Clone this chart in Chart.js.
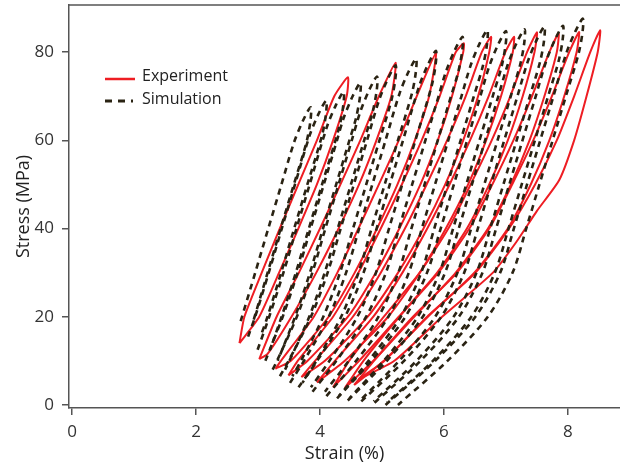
<!DOCTYPE html>
<html>
<head>
<meta charset="utf-8">
<script src="https://cdn.jsdelivr.net/npm/chart.js@4"></script>
<style>
html, body { margin: 0; padding: 0; background: #fff; }
#wrap { position: relative; width: 620px; height: 468px; }
</style>
</head>
<body>
<div id="wrap"><canvas id="chart" width="620" height="468"></canvas></div>
<script>
// tick values
const xTickValues = [0, 2, 4, 6, 8];
const yTickValues = [0, 20, 40, 60, 80];

// experiment loops: [strain %, stress MPa], loading up then unloading down
const expLoop1 = [[2.70,14],[2.78,20],[3.06,30],[3.35,40],[3.65,50],[3.95,60],[4.23,70],[4.45,74.3],[4.43,70],[4.21,60],[3.95,50],[3.65,40],[3.34,30],[3.02,20],[2.70,14]];
const expLoop2 = [[3.02,10.4],[3.30,20],[3.66,30],[4.00,40],[4.33,50],[4.65,60],[4.95,70],[5.22,77.6],[5.15,70],[4.91,60],[4.63,50],[4.30,40],[3.94,30],[3.54,20],[3.15,11.5],[3.02,10.4]];
const expLoop3 = [[3.28,8.2],[3.37,10],[3.90,20],[4.28,30],[4.62,40],[4.95,50],[5.27,60],[5.56,70],[5.87,79.8],[5.76,70],[5.53,60],[5.25,50],[4.92,40],[4.56,30],[4.14,20],[3.53,10],[3.28,8.2]];
const expLoop4 = [[3.49,6.7],[3.64,10],[4.21,20],[4.62,30],[4.98,40],[5.32,50],[5.64,60],[5.93,70],[6.19,80],[6.32,82],[6.31,80],[6.13,70],[5.90,60],[5.62,50],[5.28,40],[4.90,30],[4.45,20],[3.80,10],[3.49,6.7]];
const expLoop5 = [[3.70,6.3],[3.92,10],[4.53,20],[4.98,30],[5.37,40],[5.72,50],[6.05,60],[6.35,70],[6.61,80],[6.76,83.5],[6.73,80],[6.55,70],[6.31,60],[6.02,50],[5.67,40],[5.26,30],[4.77,20],[4.08,10],[3.70,6.3]];
const expLoop6 = [[3.95,5.1],[4.24,10],[4.86,20],[5.33,30],[5.73,40],[6.09,50],[6.42,60],[6.72,70],[6.99,80],[7.13,83.5],[7.11,80],[6.92,70],[6.68,60],[6.39,50],[6.03,40],[5.61,30],[5.10,20],[4.40,10],[3.95,5.1]];
const expLoop7 = [[4.21,4.0],[4.47,10],[5.03,20],[5.61,30],[6.07,40],[6.43,50],[6.77,60],[7.07,70],[7.34,80],[7.50,84.5],[7.46,80],[7.27,70],[7.03,60],[6.73,50],[6.37,40],[5.89,30],[5.27,20],[4.63,10],[4.21,4.0]];
const expLoop8 = [[4.40,3.8],[4.70,10],[5.28,20],[5.91,30],[6.41,40],[6.78,50],[7.12,60],[7.42,70],[7.70,80],[7.85,84.3],[7.82,80],[7.62,70],[7.38,60],[7.08,50],[6.71,40],[6.19,30],[5.52,20],[4.86,10],[4.40,3.8]];
const expLoop9 = [[4.55,4.5],[4.87,10],[5.50,20],[6.21,30],[6.73,40],[7.10,50],[7.44,60],[7.74,70],[8.02,80],[8.18,84.6],[8.14,80],[7.94,70],[7.70,60],[7.40,50],[7.03,40],[6.49,30],[5.74,20],[5.03,10],[4.55,4.5]];
const expLoop10 = [[4.62,5.8],[5.04,10],[5.73,20],[6.51,30],[7.05,40],[7.47,50],[7.82,60],[8.10,70],[8.36,80],[8.52,85],[8.48,80],[8.30,70],[8.10,60],[7.86,51],[7.50,44],[7.17,37],[6.79,30],[5.97,20],[5.20,10],[4.62,5.8]];

// simulation loops
const simLoop1 = [[2.72,19],[2.955,30],[3.165,40],[3.378,50],[3.58,59.5],[3.726,64.5],[3.85,67.5],[3.846,64.5],[3.78,59.5],[3.578,50],[3.365,40],[3.155,30],[2.945,20],[2.924,19]];
const simLoop2 = [[2.84,15.5],[2.953,20],[3.173,30],[3.383,40],[3.596,50],[3.83,61],[3.976,66],[4.10,69],[4.096,66],[4.03,61],[3.796,50],[3.583,40],[3.373,30],[3.153,20],[3.04,15.5]];
const simLoop3 = [[2.993,12.5],[3.18,20],[3.41,30],[3.62,40],[3.833,50],[4.11,63],[4.256,68],[4.38,71],[4.376,68],[4.31,63],[4.033,50],[3.82,40],[3.61,30],[3.38,20],[3.193,12.5]];
const simLoop4 = [[3.118,10],[3.398,20],[3.638,30],[3.848,40],[4.061,50],[4.274,60],[4.38,65],[4.526,70],[4.65,73],[4.646,70],[4.58,65],[4.474,60],[4.261,50],[4.048,40],[3.838,30],[3.598,20],[3.318,10]];
const simLoop5 = [[3.236,8],[3.306,10],[3.626,20],[3.876,30],[4.086,40],[4.299,50],[4.512,60],[4.65,66.5],[4.796,71.5],[4.92,74.5],[4.916,71.5],[4.85,66.5],[4.712,60],[4.499,50],[4.286,40],[4.076,30],[3.826,20],[3.506,10],[3.436,8]];
const simLoop6 = [[3.353,6.5],[3.493,10],[3.853,20],[4.123,30],[4.333,40],[4.546,50],[4.759,60],[4.95,69],[5.096,74],[5.22,77],[5.216,74],[5.15,69],[4.959,60],[4.746,50],[4.533,40],[4.323,30],[4.053,20],[3.693,10],[3.553,6.5]];
const simLoop7 = [[3.516,5],[3.741,10],[4.141,20],[4.421,30],[4.631,40],[4.844,50],[5.057,60],[5.28,70.5],[5.426,75.5],[5.55,78.5],[5.546,75.5],[5.48,70.5],[5.257,60],[5.044,50],[4.831,40],[4.621,30],[4.341,20],[3.941,10],[3.716,5]];
const simLoop8 = [[3.653,4],[3.953,10],[4.403,20],[4.703,30],[4.913,40],[5.126,50],[5.339,60],[5.60,72.3],[5.746,77.3],[5.87,80.3],[5.866,77.3],[5.80,72.3],[5.539,60],[5.326,50],[5.113,40],[4.903,30],[4.603,20],[4.153,10],[3.853,4]];
const simLoop9 = [[3.879,3],[4.264,10],[4.744,20],[5.064,30],[5.274,40],[5.487,50],[5.70,60],[5.913,70],[6.03,75.5],[6.176,80.5],[6.30,83.5],[6.296,80.5],[6.23,75.5],[6.113,70],[5.90,60],[5.687,50],[5.474,40],[5.264,30],[4.944,20],[4.464,10],[4.079,3]];
const simLoop10 = [[4.103,2],[4.583,10],[5.103,20],[5.433,30],[5.643,40],[5.856,50],[6.069,60],[6.282,70],[6.43,77],[6.576,82],[6.70,85],[6.696,82],[6.63,77],[6.482,70],[6.269,60],[6.056,50],[5.843,40],[5.633,30],[5.303,20],[4.783,10],[4.303,2]];
const simLoop11 = [[4.275,1.5],[4.827,10],[5.377,20],[5.727,30],[5.947,40],[6.16,50],[6.373,60],[6.586,70],[6.73,76.8],[6.876,81.8],[7.00,84.8],[6.996,81.8],[6.93,76.8],[6.786,70],[6.573,60],[6.36,50],[6.147,40],[5.927,30],[5.577,20],[5.027,10],[4.475,1.5]];
const simLoop12 = [[4.448,1],[5.078,10],[5.658,20],[6.018,30],[6.238,40],[6.451,50],[6.664,60],[6.877,70],[7.03,77.2],[7.176,82.2],[7.30,85.2],[7.296,82.2],[7.23,77.2],[7.077,70],[6.864,60],[6.651,50],[6.438,40],[6.218,30],[5.858,20],[5.278,10],[4.648,1]];
const simLoop13 = [[4.666,0.8],[5.356,10],[5.956,20],[6.326,30],[6.546,40],[6.759,50],[6.972,60],[7.185,70],[7.35,77.8],[7.496,82.8],[7.62,85.8],[7.616,82.8],[7.55,77.8],[7.385,70],[7.172,60],[6.959,50],[6.746,40],[6.526,30],[6.156,20],[5.556,10],[4.866,0.8]];
const simLoop14 = [[4.88,0.5],[5.621,10],[6.241,20],[6.621,30],[6.841,40],[7.054,50],[7.267,60],[7.48,70],[7.65,78],[7.796,83],[7.92,86],[7.916,83],[7.85,78],[7.68,70],[7.467,60],[7.254,50],[7.041,40],[6.821,30],[6.441,20],[5.821,10],[5.08,0.5]];
const simLoop15 = [[5.057,0],[5.857,10],[6.507,20],[6.907,30],[7.127,40],[7.34,50],[7.553,60],[7.766,70],[7.97,79.6],[8.116,84.6],[8.24,87.6],[8.236,84.6],[8.17,79.6],[7.966,70],[7.753,60],[7.54,50],[7.327,40],[7.107,30],[6.707,20],[6.057,10],[5.257,0]];

const expLoops = [expLoop1, expLoop2, expLoop3, expLoop4, expLoop5, expLoop6, expLoop7, expLoop8, expLoop9, expLoop10];
const simLoops = [simLoop1, simLoop2, simLoop3, simLoop4, simLoop5, simLoop6, simLoop7, simLoop8, simLoop9, simLoop10, simLoop11, simLoop12, simLoop13, simLoop14, simLoop15];

const RED = '#ee1d23';
const DARK = '#2a2313';
const AXIS = '#555555';
const FONT = "'Open Sans', 'DejaVu Sans', sans-serif";

const toPts = (arr) => arr.map(([x, y]) => ({ x, y }));

const datasets = [];
simLoops.forEach((loop, i) => {
    datasets.push({
        label: i === 0 ? 'Simulation' : '',
        data: toPts(loop),
        showLine: true,
        borderColor: DARK,
        borderWidth: 2.6,
        borderDash: [6, 5],
        pointRadius: 0,
        tension: 0.3,
        order: 1
    });
});
expLoops.forEach((loop, i) => {
    datasets.push({
        label: i === 0 ? 'Experiment' : '',
        data: toPts(loop),
        showLine: true,
        borderColor: RED,
        borderWidth: 2,
        pointRadius: 0,
        tension: 0.2,
        order: 2
    });
});

// frame line on top and the in-plot legend
const framePlugin = {
    id: 'frameAndLegend',
    afterDraw(chart) {
        const { ctx, chartArea } = chart;
        ctx.save();
        ctx.strokeStyle = AXIS;
        ctx.lineWidth = 1.5;
        ctx.beginPath();
        ctx.moveTo(chartArea.left, chartArea.top);
        ctx.lineTo(chartArea.right, chartArea.top);
        ctx.stroke();

        ctx.font = '16px ' + FONT;
        ctx.fillStyle = '#222';
        ctx.textBaseline = 'middle';
        ctx.lineWidth = 2.5;
        ctx.strokeStyle = RED;
        ctx.beginPath();
        ctx.moveTo(105, 79);
        ctx.lineTo(135, 79);
        ctx.stroke();
        ctx.fillText('Experiment', 142, 76);

        ctx.strokeStyle = DARK;
        ctx.lineWidth = 3;
        ctx.setLineDash([7, 6]);
        ctx.beginPath();
        ctx.moveTo(105, 101);
        ctx.lineTo(133, 101);
        ctx.stroke();
        ctx.setLineDash([]);
        ctx.fillText('Simulation', 142, 99);
        ctx.restore();
    }
};

new Chart(document.getElementById('chart').getContext('2d'), {
    type: 'scatter',
    data: { datasets },
    options: {
        responsive: false,
        animation: false,
        layout: { padding: { top: 5, right: 0, left: 0, bottom: 0 } },
        plugins: { legend: { display: false }, tooltip: { enabled: false } },
        scales: {
            x: {
                type: 'linear',
                min: -0.05,
                max: 8.84,
                afterBuildTicks: (axis) => { axis.ticks = xTickValues.map((v) => ({ value: v })); },
                afterFit: (axis) => { axis.height = 60; axis.paddingLeft = 0; axis.paddingRight = 0; },
                ticks: { includeBounds: false, color: '#333', font: { family: FONT, size: 17 }, padding: 7 },
                grid: { drawOnChartArea: false, tickLength: 7, color: AXIS, lineWidth: 1.5 },
                border: { color: AXIS, width: 1.5 },
                title: { display: true, text: 'Strain (%)', color: '#222', font: { family: FONT, size: 18 }, padding: { top: 0, bottom: 3 } }
            },
            y: {
                type: 'linear',
                min: -0.7,
                max: 90.7,
                afterBuildTicks: (axis) => { axis.ticks = yTickValues.map((v) => ({ value: v })); },
                afterFit: (axis) => { axis.width = 69; axis.paddingTop = 0; axis.paddingBottom = 0; },
                ticks: { includeBounds: false, color: '#333', font: { family: FONT, size: 17 }, padding: 8 },
                grid: { drawOnChartArea: false, tickLength: 7, color: AXIS, lineWidth: 1.5 },
                border: { color: AXIS, width: 1.5 },
                title: { display: true, text: 'Stress (MPa)', color: '#222', font: { family: FONT, size: 18 }, padding: { top: 13, bottom: 0 } }
            }
        }
    },
    plugins: [framePlugin]
});
</script>
</body>
</html>
